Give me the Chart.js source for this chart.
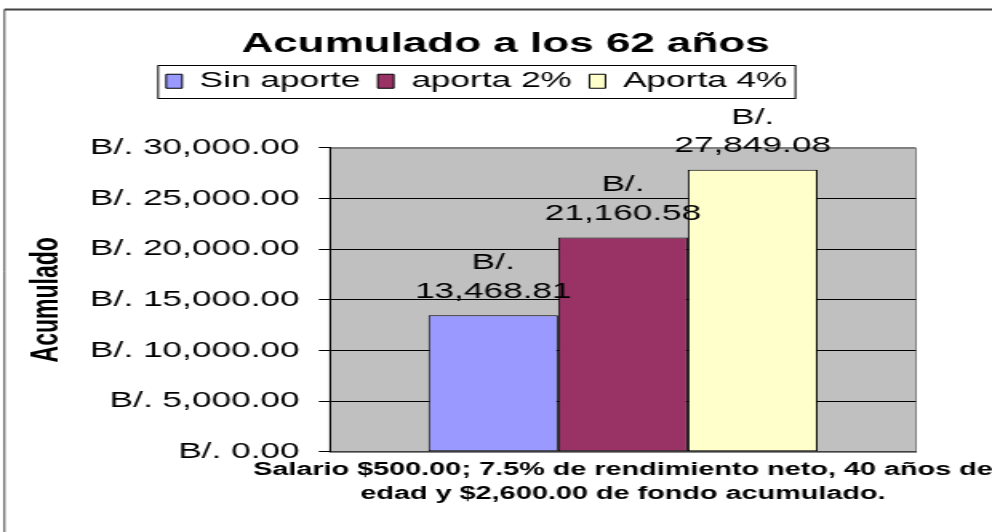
<!DOCTYPE html>
<html>
<head>
<meta charset="utf-8">
<script src="https://cdn.jsdelivr.net/npm/chart.js@4.4.1/dist/chart.umd.min.js"></script>
<style>
    html, body { margin: 0; padding: 0; background: #fff; overflow: hidden; }
    /* the reference is drawn wide: render narrow and stretch sideways */
    #wrap { width: 620px; height: 532px; transform: scaleX(1.6); transform-origin: 0 0; }
</style>
</head>
<body>
<div id="wrap"><canvas id="acumChart"></canvas></div>
<script>
    var categories = [''];
    var seriesNames = ['Sin aporte', 'aporta 2%', 'Aporta 4%'];
    var sinAporte = [13468.81];
    var aporta2 = [21160.58];
    var aporta4 = [27849.08];
    var seriesColors = ['#9999FF', '#993366', '#FFFFCC'];
    var xTitleLines = ['Salario $500.00; 7.5% de rendimiento neto, 40 años de',
                       'edad y $2,600.00 de fondo acumulado.'];
    var yMin = 0, yMax = 30000, yStep = 5000;

    var FONT = 'Arial, "Liberation Sans", sans-serif';
    var X_TITLE_SIZE = 18, X_TITLE_LH = 1.36, X_TITLE_PAD = 6;

    function money(v) {
        return v.toLocaleString('en-US', { minimumFractionDigits: 2, maximumFractionDigits: 2 });
    }

    // white page, grey plot area and the outer frame of the chart
    var framePlugin = {
        id: 'framePlugin',
        afterLayout: function (chart) {
            // legend sits a bit left of centre, title a bit right
            if (chart.legend) { chart.legend.left -= 12; chart.legend.right -= 12; }
            if (chart.titleBlock) { chart.titleBlock.left += 6; chart.titleBlock.right += 6; }
        },
        beforeDraw: function (chart) {
            var ctx = chart.ctx, a = chart.chartArea;
            ctx.save();
            ctx.fillStyle = '#fff';
            ctx.fillRect(0, 0, chart.width, chart.height);
            ctx.fillStyle = '#C0C0C0';
            ctx.fillRect(a.left, a.top, a.right - a.left, a.bottom - a.top);
            ctx.strokeStyle = '#808080';
            ctx.lineWidth = 1;
            ctx.strokeRect(a.left, Math.round(a.top) + 0.5, a.right - a.left, a.bottom - a.top);
            ctx.strokeStyle = '#404040';
            ctx.lineWidth = 2;
            ctx.beginPath();
            ctx.moveTo(2.8, 9.5);
            ctx.lineTo(chart.width + 5, 9.5);
            ctx.stroke();
            ctx.lineWidth = 1;
            ctx.beginPath();
            ctx.moveTo(2.8, 9.5);
            ctx.lineTo(2.8, chart.height + 5);
            ctx.stroke();
            ctx.restore();
        },
        afterDraw: function (chart) {
            var ctx = chart.ctx;
            // box round the legend
            var hb = chart.legend.legendHitBoxes;
            if (hb && hb.length) {
                var last = hb[hb.length - 1];
                ctx.save();
                ctx.strokeStyle = '#000';
                ctx.lineWidth = 1;
                ctx.strokeRect(hb[0].left - 5, Math.round(hb[0].top - 5.5) + 0.5,
                    last.left + last.width + 5 - (hb[0].left - 5), hb[0].height + 11);
                ctx.restore();
            }
            // x axis title, drawn here so it is not squeezed to the axis width
            var xs = chart.scales.x;
            var lh = X_TITLE_SIZE * X_TITLE_LH;
            ctx.save();
            ctx.font = 'bold ' + X_TITLE_SIZE + 'px ' + FONT;
            ctx.fillStyle = '#000';
            ctx.textAlign = 'center';
            ctx.textBaseline = 'middle';
            xTitleLines.forEach(function (line, i) {
                ctx.fillText(line, (xs.left + xs.right) / 2, xs.top + X_TITLE_PAD + lh / 2 + i * lh);
            });
            ctx.restore();
        }
    };

    // value labels above each bar, on two lines
    var valueLabels = {
        id: 'valueLabels',
        afterDatasetsDraw: function (chart) {
            var ctx = chart.ctx;
            ctx.save();
            ctx.font = '22px ' + FONT;
            ctx.fillStyle = '#000';
            ctx.textAlign = 'center';
            ctx.textBaseline = 'middle';
            chart.data.datasets.forEach(function (ds, i) {
                var bar = chart.getDatasetMeta(i).data[0];
                ctx.fillText('B/.', bar.x, bar.y - 52);
                ctx.fillText(money(ds.data[0]), bar.x, bar.y - 23.5);
            });
            ctx.restore();
        }
    };

    var seriesData = [sinAporte, aporta2, aporta4];

    var ctx = document.getElementById('acumChart').getContext('2d');
    var acumChart = new Chart(ctx, {
        type: 'bar',
        data: {
            labels: categories,
            datasets: seriesNames.map(function (name, i) {
                return {
                    label: name,
                    data: seriesData[i],
                    backgroundColor: seriesColors[i],
                    borderColor: '#000',
                    borderWidth: 1,
                    borderSkipped: false,
                    barPercentage: 1,
                    categoryPercentage: 0.664
                };
            })
        },
        options: {
            responsive: true,
            maintainAspectRatio: false,
            animation: false,
            layout: {
                padding: { left: 0, right: 0, top: 0, bottom: 25.25 }
            },
            scales: {
                x: {
                    ticks: { display: false },
                    grid: { display: false, drawTicks: false },
                    border: { display: true, color: '#404040', width: 1 },
                    title: {
                        // only reserves the room; the text is drawn by framePlugin
                        display: true,
                        text: xTitleLines,
                        color: 'rgba(0,0,0,0)',
                        font: { family: FONT, size: X_TITLE_SIZE, weight: 'bold', lineHeight: X_TITLE_LH },
                        padding: { top: X_TITLE_PAD, bottom: 0 }
                    }
                },
                y: {
                    min: yMin,
                    max: yMax,
                    afterFit: function (scale) { scale.width = 206.25; },
                    ticks: {
                        stepSize: yStep,
                        color: '#000',
                        padding: 12,
                        font: { family: FONT, size: 22 },
                        callback: function (v) { return 'B/. ' + money(v); }
                    },
                    grid: {
                        color: function (c) { return c.tick && c.tick.value === yMax ? '#808080' : '#000'; },
                        tickColor: '#000',
                        tickLength: 7,
                        lineWidth: 1
                    },
                    border: { display: true, color: '#000', width: 1 },
                    title: {
                        display: true,
                        text: 'Acumulado',
                        color: '#000',
                        font: { family: FONT, size: 23, weight: 'bold', lineHeight: 1.2 },
                        padding: { top: 15.6, bottom: 0 }
                    }
                },
                // empty right-hand axis: keeps the gap right of the plot
                yRight: {
                    position: 'right',
                    display: true,
                    afterFit: function (scale) { scale.width = 47.5; },
                    ticks: { display: false },
                    grid: { display: false, drawTicks: false },
                    border: { display: false }
                }
            },
            plugins: {
                title: {
                    display: true,
                    text: 'Acumulado a los 62 años',
                    color: '#000',
                    font: { family: FONT, size: 27.5, weight: 'bold', lineHeight: 1.1 },
                    padding: { top: 29, bottom: 0 }
                },
                subtitle: {
                    // empty spacer between the legend and the plot
                    display: true,
                    text: '',
                    weight: 500,
                    font: { size: 10, lineHeight: 1 },
                    padding: { top: 35.6, bottom: 0 }
                },
                legend: {
                    display: true,
                    position: 'top',
                    labels: {
                        color: '#000',
                        font: { family: FONT, size: 22 },
                        boxWidth: 10,
                        boxHeight: 14,
                        padding: 11
                    }
                },
                tooltip: { enabled: false }
            }
        },
        plugins: [framePlugin, valueLabels]
    });
</script>
</body>
</html>
